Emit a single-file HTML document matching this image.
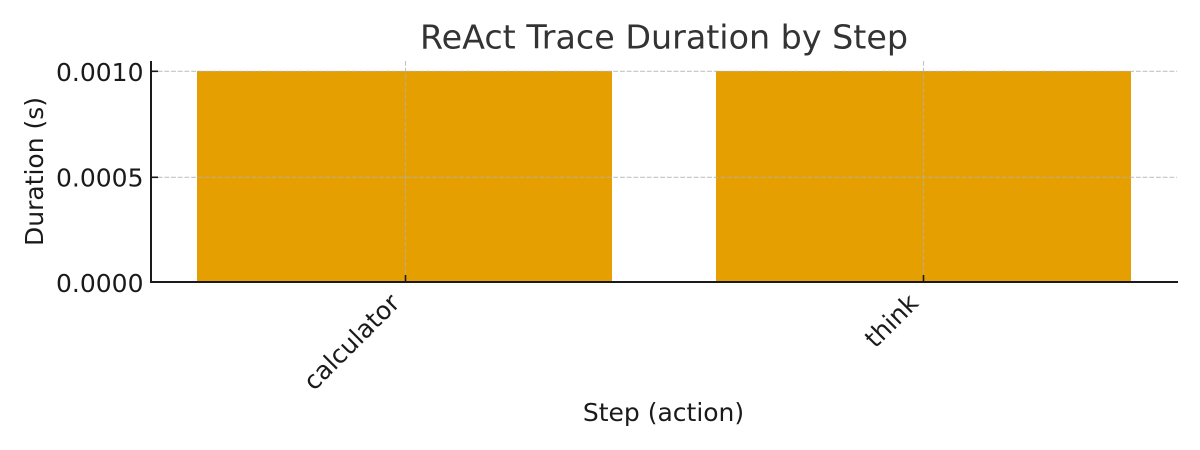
<!DOCTYPE html>
<html lang="en">
<head>
<meta charset="utf-8">
<title>ReAct Trace Duration by Step</title>
<style>
html,body{margin:0;padding:0;background:#fff;}
svg{display:block;}
text{font-family:"DejaVu Sans","Liberation Sans",sans-serif;}
</style>
</head>
<body>
<svg id="chart" xmlns="http://www.w3.org/2000/svg" width="1200" height="450" viewBox="0 0 1200 450">
  <text x="664" y="48.500" font-size="33.33" fill="#333333" text-anchor="middle">ReAct Trace Duration by Step</text>
  <text x="663.500" y="421" font-size="25" fill="#1a1a1a" text-anchor="middle">Step (action)</text>
  <text transform="translate(43,171.500) rotate(-90)" font-size="25" fill="#1a1a1a" text-anchor="middle">Duration (s)</text>
  <g id="bars"></g>
  <g id="grid"></g>
  <g id="axes"></g>
</svg>
<script>
const categories = ["calculator", "think"];
const durations = [0.001, 0.001];
const yTicks = [0, 0.0005, 0.001];
const yTickLabels = ["0.0000", "0.0005", "0.0010"];

const NS = "http://www.w3.org/2000/svg";
const plotLeft = 151, plotRight = 1177, plotTop = 61, plotBottom = 282;
const yZeroPx = 282, yUnitPx = 211 / 0.001;
const xFirstPx = 404.6, xStepPx = 518.7, barWidthFraction = 0.8;

function xScale(i) { return xFirstPx + i * xStepPx; }
function yScale(v) { return yZeroPx - v * yUnitPx; }
function snapX(x) { return Math.round(x) + 0.5; }
function snapY(y) { return Math.ceil(y) + 0.3; }
function make(tag, attrs, parent) {
  const el = document.createElementNS(NS, tag);
  for (const k in attrs) el.setAttribute(k, attrs[k]);
  parent.appendChild(el);
  return el;
}

const barsG = document.getElementById("bars");
const gridG = document.getElementById("grid");
const axesG = document.getElementById("axes");
const gridStyle = { stroke: "#b0b0b0", "stroke-width": 1.1, "stroke-dasharray": "4.800 1.900", opacity: 0.75 };

categories.forEach(function (cat, i) {
  const w = xStepPx * barWidthFraction;
  const top = yScale(durations[i]);
  const bar = make("rect", { x: xScale(i) - w / 2, y: top, width: w, height: yZeroPx - top, fill: "#e69f00", "shape-rendering": "crispEdges" }, barsG);
  
  

  const gx = snapX(xScale(i));
  const g = make("line", Object.assign({ x1: gx, x2: gx, y1: plotTop, y2: plotBottom }, gridStyle), gridG);
  
  

  const tick = make("line", { x1: gx, x2: gx, y1: plotBottom - 7, y2: plotBottom, stroke: "#1a1a1a", "stroke-width": 1.6 }, axesG);
  
  

  const label = make("text", {
    transform: "translate(" + (xScale(i) - 3.5) + ",304.500) rotate(-45)",
    "font-size": 25, fill: "#1a1a1a", "text-anchor": "end"
  }, axesG);
  label.textContent = cat;
  
  
});

yTicks.forEach(function (v, i) {
  const y = yScale(v);
  const ys = v > 0 ? snapY(y) : y;
  if (v > 0) {
    const g = make("line", Object.assign({ x1: plotLeft, x2: plotRight, y1: ys, y2: ys }, gridStyle), gridG);
    
    
  }
  const tick = make("line", { x1: plotLeft, x2: plotLeft + 7, y1: ys, y2: ys, stroke: "#1a1a1a", "stroke-width": 1.6 }, axesG);
  
  

  const label = make("text", { x: 143.500, y: y + 10, "font-size": 25, fill: "#1a1a1a", "text-anchor": "end" }, axesG);
  label.textContent = yTickLabels[i];
  
  
});

const leftSpine = make("line", { x1: plotLeft, x2: plotLeft, y1: plotTop, y2: plotBottom + 1, stroke: "#1a1a1a", "stroke-width": 2 }, axesG);



const bottomSpine = make("line", { x1: plotLeft, x2: plotRight + 1, y1: plotBottom, y2: plotBottom, stroke: "#1a1a1a", "stroke-width": 2 }, axesG);


</script>
</body>
</html>
